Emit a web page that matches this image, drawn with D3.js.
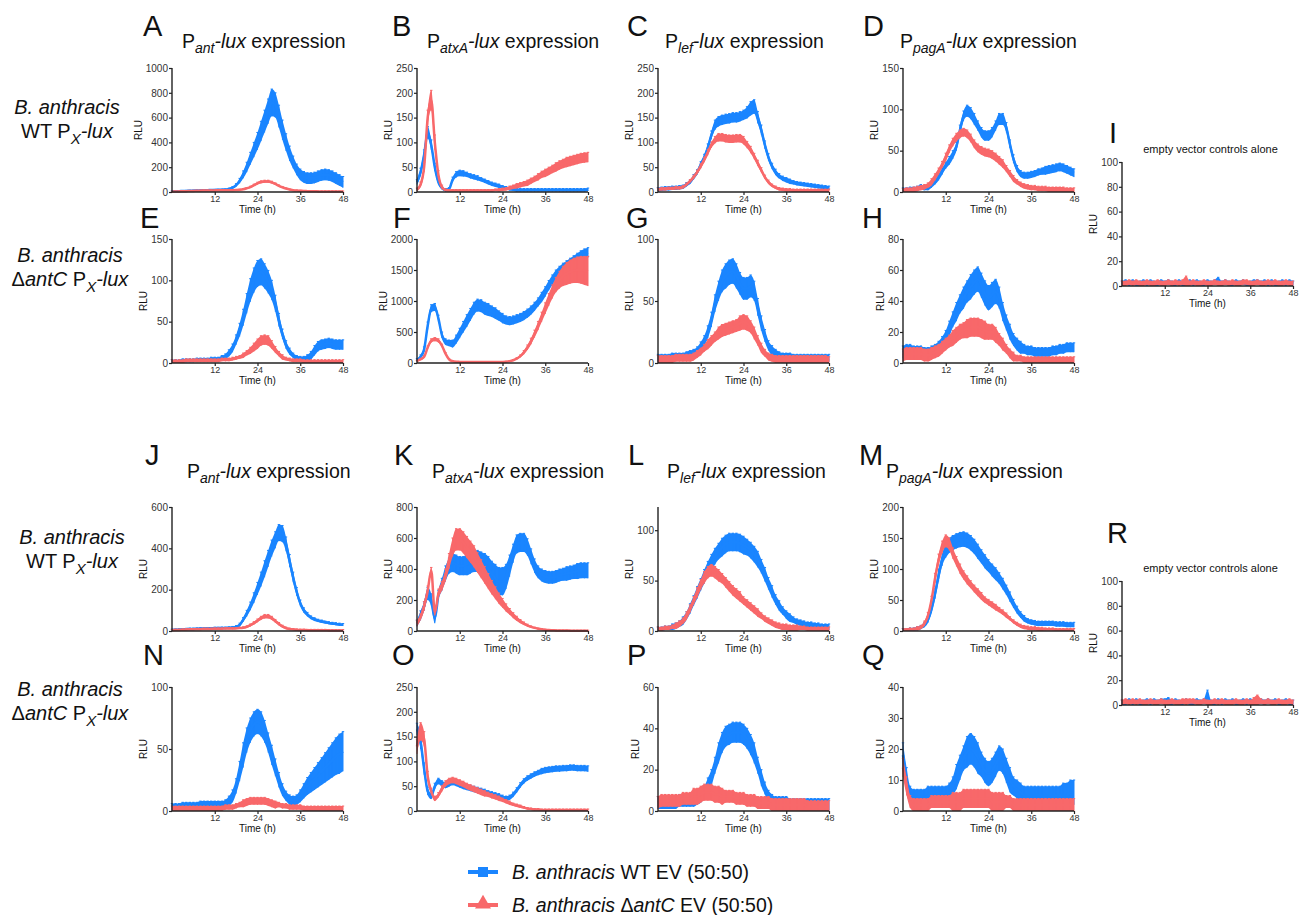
<!DOCTYPE html>
<meta charset="utf-8">
<html>
<head>
<title>lux expression panels</title>
<style>
  html, body { margin: 0; padding: 0; background: #fff; }
  text { font-family: "Liberation Sans", Arial, Helvetica, sans-serif; fill: #111; }
  .tick text { fill: #333; }
</style>
</head>
<body>
<svg xmlns="http://www.w3.org/2000/svg"></svg>
<script src="https://d3js.org/d3.v7.min.js"></script>
<script>
// hourly readings, t = 0..48 h (mean RLU, error half-width)
var hours = [0,1,2,3,4,5,6,7,8,9,10,11,12,13,14,15,16,17,18,19,20,21,22,23,24,25,26,27,28,29,30,31,32,33,34,35,36,37,38,39,40,41,42,43,44,45,46,47,48];
var xTicks = [12, 24, 36, 48];

// A  Pant-lux, WT background
var A_wt = [5,6,7,8,9,10,11,12,13,14, 15,16,17,18,19,20,25,35,55,90, 140,200,270,340,410,490,570,650,720,700, 610,500,400,310,240,180,140,120,110,110, 115,125,135,140,135,125,110,95,80];
var A_wtErr = [4,4,4,4,4,4,4,4,4,4, 4,4,4,4,4,5,6,8,12,20, 30,40,50,60,70,80,90,100,110,100, 90,80,70,60,50,45,45,45,45,45, 45,45,45,45,45,45,45,45,45];
var A_dc = [3,4,5,6,7,8,9,10,11,12, 12,13,13,14,14,15,15,15,16,18, 22,30,40,55,70,80,85,85,78,65, 50,38,28,20,15,12,10,8,7,6, 6,5,5,5,5,5,5,4,4];
var A_dcErr = [4,4,4,4,4,4,4,4,4,4, 4,4,4,4,4,4,4,4,4,4, 5,6,7,8,9,10,10,10,9,8, 7,6,5,5,4,4,4,4,4,4, 4,4,4,4,4,4,4,4,4];

// B  PatxA-lux
var B_wt = [20,40,75,120,95,50,20,8,4,6, 25,35,38,37,35,32,30,28,25,22, 19,16,14,12,10,8,6,5,4,4, 4,4,4,4,4,4,4,4,4,4, 4,4,4,4,4,4,4,4,5];
var B_wtErr = [5,8,10,12,10,8,5,3,3,3, 5,6,6,6,5,5,5,5,4,4, 4,4,4,4,3,3,3,3,3,3, 3,3,3,3,3,3,3,3,3,3, 3,3,3,3,3,3,3,3,3];
var B_dc = [5,15,50,150,185,100,35,10,4,3, 3,3,3,3,3,3,3,3,3,3, 3,3,4,4,5,6,8,10,12,14, 16,18,22,26,30,35,38,42,46,50, 54,57,60,62,64,66,68,69,70];
var B_dcErr = [3,5,10,15,20,15,8,4,2,2, 2,2,2,2,2,2,2,2,2,2, 2,2,2,3,3,3,4,4,5,5, 5,6,6,6,7,7,8,8,8,9, 9,9,10,10,10,10,10,10,10];

// C  Plef-lux
var C_wt = [5,6,7,7,8,8,9,10,15,20, 30,40,55,70,90,115,135,142,145,147, 148,150,150,152,155,160,168,172,150,125, 95,70,52,40,32,27,24,21,19,17, 16,15,14,13,12,11,10,9,8];
var C_wtErr = [4,4,4,4,4,4,4,4,4,4, 5,5,6,6,7,8,10,10,10,10, 10,10,10,10,10,12,14,14,12,10, 8,7,6,6,5,5,5,5,4,4, 4,4,4,4,4,4,4,4,4];
var C_dc = [5,6,6,7,7,8,8,10,15,22, 30,40,52,65,80,95,105,110,110,108, 107,107,108,108,104,95,85,72,58,44, 30,20,13,9,6,5,4,4,3,3, 3,3,3,3,3,3,3,3,3];
var C_dcErr = [3,3,3,3,3,3,3,3,3,3, 4,4,5,5,6,6,7,8,8,8, 8,8,8,8,8,7,7,6,6,5, 4,4,3,3,3,3,3,3,3,3, 3,3,3,3,3,3,3,3,3];

// D  PpagA-lux
var D_wt = [2,2,3,3,4,6,5,5,8,12, 18,25,32,38,45,55,75,92,98,95, 88,80,72,68,68,72,80,88,88,78, 58,40,28,22,20,20,21,22,24,25, 26,27,28,29,30,29,27,25,23];
var D_wtErr = [3,3,3,3,3,3,3,3,3,3, 4,4,4,5,5,5,6,6,7,7, 7,6,6,6,6,6,6,7,7,6, 5,5,4,4,4,4,4,4,4,4, 5,5,5,5,5,5,5,5,5];
var D_dc = [1,2,2,3,4,5,6,8,12,18, 25,33,42,52,60,66,70,72,70,65, 58,53,50,48,47,45,42,38,34,28, 22,16,12,9,7,6,5,5,4,4, 4,3,3,3,3,3,2,2,2];
var D_dcErr = [3,3,3,3,3,3,3,3,4,4, 4,4,5,5,5,5,5,5,5,5, 5,5,5,5,5,5,5,5,5,4, 4,4,3,3,3,3,3,3,3,3, 3,3,3,3,3,3,3,3,3];

// E  Pant-lux, antC background
var E_wt = [2,2,2,3,3,3,3,4,4,4, 4,5,5,5,6,8,12,18,28,40, 55,72,88,100,108,110,105,98,88,72, 52,35,22,14,9,6,5,5,6,9, 15,20,22,23,24,23,22,22,22];
var E_wtErr = [2,2,2,2,2,2,2,2,2,2, 2,2,2,2,3,3,4,5,6,8, 10,12,14,15,16,16,15,14,12,10, 8,6,5,4,3,3,3,3,4,5, 6,6,6,6,6,6,6,6,6];
var E_dc = [2,2,2,2,3,3,3,3,3,3, 3,3,3,3,4,4,4,5,6,7, 9,12,15,19,23,27,28,27,22,16, 11,7,5,4,3,3,3,2,2,2, 2,2,2,2,2,2,2,2,2];
var E_dcErr = [2,2,2,2,2,2,2,2,2,2, 2,2,2,2,2,2,2,2,2,2, 3,3,4,5,6,6,6,6,5,4, 3,3,2,2,2,2,2,2,2,2, 2,2,2,2,2,2,2,2,2];

// F  PatxA-lux
var F_wt = [50,100,220,600,880,900,720,450,340,320, 310,380,480,580,680,780,880,930,920,880, 860,830,800,760,720,690,680,690,710,730, 760,800,850,910,980,1060,1150,1250,1340,1420, 1480,1530,1570,1610,1650,1690,1730,1760,1780];
var F_wtErr = [20,30,40,60,60,60,50,50,50,50, 60,70,80,90,100,100,100,100,100,100, 100,90,90,80,80,70,70,70,70,70, 70,70,70,70,70,80,80,80,80,80, 80,80,80,80,80,80,80,80,80];
var F_dc = [30,60,100,250,360,380,360,280,150,60, 30,20,18,17,16,15,15,15,15,15, 15,15,15,16,18,22,30,45,70,110, 170,250,350,470,600,740,880,1020,1150,1260, 1340,1400,1440,1470,1490,1500,1500,1490,1480];
var F_dcErr = [10,15,20,25,30,30,30,25,20,10, 5,5,5,5,5,5,5,5,5,5, 5,5,5,5,5,6,8,10,15,20, 30,40,50,60,70,80,90,100,110,120, 140,160,180,190,200,210,220,230,240];

// G  Plef-lux
var G_wt = [4,4,4,4,5,5,5,5,6,7, 8,10,13,18,25,35,48,58,66,70, 73,74,70,64,60,60,62,58,45,32, 22,14,10,8,6,5,5,5,4,4, 4,4,4,4,4,4,4,4,4];
var G_wtErr = [3,3,3,3,3,3,3,3,3,3, 3,3,4,4,5,6,7,8,9,10, 10,10,10,9,9,9,9,8,7,6, 5,4,4,3,3,3,3,3,3,3, 3,3,3,3,3,3,3,3,3];
var G_dc = [3,3,3,3,3,4,4,4,4,4, 5,7,9,12,15,18,21,24,26,27, 28,29,30,32,33,32,29,24,18,12, 8,5,4,3,3,3,3,3,3,3, 3,3,3,3,3,3,3,3,2];
var G_dcErr = [3,3,3,3,3,3,3,3,3,3, 3,3,3,3,4,4,4,5,5,5, 5,5,5,6,6,6,5,5,4,4, 3,3,3,3,3,3,3,3,3,3, 3,3,3,3,3,3,3,3,3];

// H  PpagA-lux
var H_wt = [7,8,8,7,7,7,6,6,7,8, 10,13,17,22,28,33,38,42,46,49, 52,54,50,45,42,44,46,42,33,26, 20,15,12,10,9,8,8,7,7,7, 7,7,8,8,9,9,10,10,10];
var H_wtErr = [4,4,4,4,4,4,4,4,4,4, 4,4,4,5,5,6,6,7,7,8, 8,8,8,8,8,8,8,7,6,5, 5,4,4,4,3,3,3,3,3,3, 3,3,3,3,3,3,3,3,3];
var H_dc = [5,6,6,6,6,6,5,5,6,7, 8,10,12,14,16,18,20,21,22,23, 23,23,22,21,20,20,18,15,12,9, 6,4,3,3,2,2,2,2,2,2, 2,2,2,2,2,2,2,2,2];
var H_dcErr = [4,4,4,4,4,4,4,4,4,4, 4,4,4,4,5,5,5,5,6,6, 6,6,6,6,5,5,5,4,4,3, 3,3,2,2,2,2,2,2,2,2, 2,2,2,2,2,2,2,2,2];

// I  empty vector controls
var I_wt = [2,3,2,3,2,2,3,2,3,2, 2,3,2,3,2,2,3,2,2,3, 2,3,2,2,3,2,3,4,2,3, 2,2,3,2,3,2,2,3,3,2, 3,2,3,2,2,3,2,3,2];
var I_wtErr = [2,2,2,2,2,2,2,2,2,2, 2,2,2,2,2,2,2,2,2,2, 2,2,2,2,2,2,2,3,2,2, 2,2,2,2,2,2,2,2,2,2, 2,2,2,2,2,2,2,2,2];
var I_dc = [2,2,3,2,3,2,2,3,2,2, 3,2,2,3,2,3,2,3,4,2, 3,2,2,3,2,2,3,2,2,3, 2,3,2,2,3,3,2,2,3,2, 2,3,2,3,2,2,3,2,2];
var I_dcErr = [2,2,2,2,2,2,2,2,2,2, 2,2,2,2,2,2,2,2,4,2, 2,2,2,2,2,2,2,2,2,2, 2,2,2,2,2,2,2,2,2,2, 2,2,2,2,2,2,2,2,2];

// J  Pant-lux, 50:50 co-culture
var J_wt = [5,6,7,8,9,10,10,11,12,12, 13,13,14,14,15,15,16,17,20,30, 55,85,120,160,205,250,300,350,400,440, 475,470,420,340,260,190,135,100,80,65, 56,50,46,42,39,36,34,32,30];
var J_wtErr = [4,4,4,4,4,4,4,4,4,4, 4,4,4,4,4,4,4,5,6,8, 10,15,20,25,30,35,40,40,40,40, 40,40,35,30,25,20,15,12,10,8, 8,7,7,6,6,6,6,6,6];
var J_dc = [4,5,5,6,7,8,8,9,9,10, 10,10,11,11,11,12,12,12,13,14, 16,20,28,38,50,62,70,70,62,48, 34,22,14,10,8,6,5,5,4,4, 4,4,4,4,3,3,3,3,3];
var J_dcErr = [4,4,4,4,4,4,4,4,4,4, 4,4,4,4,4,4,4,4,4,4, 4,5,6,7,8,9,10,10,9,8, 7,6,5,4,4,4,4,4,4,4, 4,4,4,4,4,4,4,4,4];

// K  PatxA-lux
var K_wt = [50,100,160,240,200,80,230,300,370,420, 440,430,420,420,430,440,450,450,440,430, 400,370,340,320,320,350,420,500,560,570, 570,540,480,420,380,360,350,345,345,350, 360,365,370,375,380,385,390,390,390];
var K_wtErr = [20,30,30,40,40,30,30,40,50,50, 60,60,60,60,70,70,70,70,70,70, 80,80,90,90,90,80,70,60,60,60, 60,55,50,45,40,40,40,40,40,40, 40,40,45,45,45,50,50,50,50];
var K_dc = [50,90,160,260,390,120,240,290,360,450, 540,590,590,570,540,510,480,440,400,360, 320,280,245,210,180,150,125,100,80,62, 48,36,27,20,15,11,8,6,5,4, 3,3,3,2,2,2,2,2,2];
var K_dcErr = [20,20,30,30,20,20,30,30,40,50, 60,70,70,70,70,70,70,65,60,55, 50,45,40,35,30,25,20,18,15,12, 10,8,6,5,4,4,3,3,3,3, 3,3,3,3,3,3,3,3,3];

// L  Plef-lux
var L_wt = [2,2,3,3,4,5,7,10,15,22, 30,38,46,54,62,68,74,79,83,86, 88,88,88,87,85,83,80,76,71,64, 56,47,39,31,25,20,16,13,11,9, 8,7,6,6,5,5,4,4,4];
var L_wtErr = [2,2,2,2,3,3,3,4,4,5, 5,6,6,7,7,8,8,8,9,9, 9,9,9,9,9,8,8,8,8,7, 7,6,6,5,5,4,4,4,3,3, 3,3,3,3,3,3,3,3,3];
var L_dc = [2,2,3,3,4,5,7,10,15,22, 30,38,46,53,58,60,58,55,52,48, 44,40,37,34,30,27,24,21,18,15, 12,10,8,6,5,4,4,3,3,3, 3,3,2,2,2,2,2,2,2];
var L_dcErr = [2,2,2,2,2,3,3,3,4,4, 4,5,5,6,6,6,6,6,5,5, 5,5,5,5,4,4,4,4,4,3, 3,3,3,3,3,3,3,3,3,3, 2,2,2,2,2,2,2,2,2];

// M  PpagA-lux
var M_wt = [2,2,3,3,4,6,10,18,35,60, 90,115,130,138,142,145,147,148,146,142, 136,128,120,112,105,98,92,85,76,66, 55,44,34,26,20,16,14,13,12,12, 12,12,12,11,11,11,10,10,10];
var M_wtErr = [2,2,2,2,3,3,4,5,6,8, 10,10,12,12,12,12,12,12,12,12, 12,12,11,11,10,10,10,9,9,8, 8,7,6,5,5,4,4,4,4,4, 4,4,4,4,4,4,4,4,4];
var M_dc = [2,2,3,3,4,6,12,25,50,85, 115,135,145,140,125,112,100,90,82,75, 68,62,56,50,46,42,38,34,30,25, 20,15,11,8,6,5,4,4,3,3, 3,3,3,2,2,2,2,2,2];
var M_dcErr = [2,2,2,2,3,3,4,5,6,8, 9,10,10,10,9,8,8,7,7,6, 6,6,6,5,5,5,5,4,4,4, 3,3,3,3,3,3,3,3,3,3, 2,2,2,2,2,2,2,2,2];

// N  Pant-lux
var N_wt = [3,3,3,4,4,4,4,4,5,5, 5,5,5,5,5,6,8,12,20,32, 45,57,65,70,72,70,64,55,45,35, 25,17,12,9,8,9,12,16,20,23, 26,29,32,35,38,41,44,46,48];
var N_wtErr = [3,3,3,3,3,3,3,3,3,3, 3,3,3,3,3,3,4,5,6,8, 10,10,10,10,10,10,9,8,8,7, 6,5,4,4,4,4,5,6,7,8, 9,10,11,12,13,14,15,16,16];
var N_dc = [2,2,2,2,2,2,2,2,2,2, 2,2,2,2,2,3,3,3,4,5, 6,7,8,8,8,8,8,7,6,5, 5,4,4,3,3,3,3,2,2,2, 2,2,2,2,2,2,2,2,2];
var N_dcErr = [2,2,2,2,2,2,2,2,2,2, 2,2,2,2,2,2,2,2,2,2, 3,3,3,3,3,3,3,3,3,3, 2,2,2,2,2,2,2,2,2,2, 2,2,2,2,2,2,2,2,2];

// O  PatxA-lux
var O_wt = [165,140,85,40,30,50,60,55,52,55, 58,56,53,50,48,46,44,42,40,38, 36,34,32,30,27,25,27,33,42,52, 60,66,70,74,77,80,82,83,84,85, 85,86,86,87,87,86,86,86,85];
var O_wtErr = [12,15,12,8,6,6,6,6,6,6, 6,6,6,6,6,6,6,6,6,6, 5,5,5,5,5,5,5,5,5,5, 5,5,5,5,5,6,6,6,6,6, 6,6,6,6,6,6,6,6,6];
var O_dc = [130,160,145,70,40,25,32,45,55,60, 62,60,57,54,50,47,44,41,38,35, 33,30,28,25,22,19,16,13,11,9, 7,5,4,3,3,2,2,2,2,2, 2,2,2,2,2,2,2,2,2];
var O_dcErr = [15,18,15,10,6,5,5,6,6,6, 6,6,6,6,6,6,6,6,6,6, 5,5,5,5,4,4,4,3,3,3, 2,2,2,2,2,2,2,2,2,2, 2,2,2,2,2,2,2,2,2];

// P  Plef-lux
var P_wt = [4,4,4,4,4,4,5,5,5,5, 5,6,7,9,12,16,22,28,33,36, 37,38,38,38,37,35,32,28,22,16, 11,7,5,4,4,4,4,3,3,3, 3,3,3,3,3,3,3,3,3];
var P_wtErr = [3,3,3,3,3,3,3,3,3,3, 3,3,3,3,4,4,4,5,5,5, 5,5,5,5,5,5,5,5,4,4, 3,3,3,3,3,3,3,3,3,3, 3,3,3,3,3,3,3,3,3];
var P_dc = [4,5,5,5,5,5,5,6,6,6, 7,7,8,9,9,9,8,8,7,7, 7,7,6,6,6,5,5,5,4,4, 4,4,3,3,3,3,3,3,3,3, 3,3,2,2,2,2,2,2,2];
var P_dcErr = [3,3,3,3,3,3,3,3,3,3, 4,4,4,4,4,4,4,4,4,3, 3,3,3,3,3,3,3,3,3,3, 3,3,3,3,3,3,3,3,3,3, 3,3,3,3,3,3,3,3,3];

// Q  PpagA-lux
var Q_wt = [18,10,5,4,4,4,4,5,5,5, 5,5,5,6,8,11,14,17,19,20, 19,17,15,13,12,13,15,17,16,13, 10,8,7,6,5,5,5,5,5,5, 5,5,5,5,5,5,5,6,6];
var Q_wtErr = [4,4,3,3,3,3,3,3,3,3, 3,3,3,3,3,4,4,4,5,5, 5,5,4,4,4,4,4,4,4,4, 4,3,3,3,3,3,3,3,3,3, 3,3,3,3,3,4,4,4,4];
var Q_dc = [14,8,3,2,2,2,2,2,3,3, 3,3,3,3,3,3,3,4,4,4, 4,4,4,4,4,3,3,3,3,3, 3,2,2,2,2,2,2,2,2,2, 2,2,2,2,2,2,2,2,2];
var Q_dcErr = [3,3,2,2,2,2,2,2,2,2, 2,2,2,2,3,3,3,3,3,3, 3,3,3,3,3,3,3,3,3,2, 2,2,2,2,2,2,2,2,2,2, 2,2,2,2,2,2,2,2,2];

// R  empty vector controls
var R_wt = [2,2,3,2,3,2,2,3,2,3, 2,3,3,2,2,3,2,2,3,2, 2,3,2,3,5,2,2,3,2,3, 2,3,2,2,3,2,3,2,2,3, 2,3,2,3,2,2,3,2,2];
var R_wtErr = [2,2,2,2,2,2,2,2,2,2, 2,2,2,4,2,2,2,2,2,2, 2,2,2,2,7,2,2,2,2,2, 2,2,2,2,2,2,2,2,2,2, 2,2,2,2,2,2,2,2,2];
var R_dc = [2,3,2,3,2,3,2,2,3,2, 2,3,2,2,3,2,2,3,2,3, 3,2,2,3,2,2,3,2,3,2, 2,2,3,2,2,3,2,3,4,3, 2,3,2,2,3,2,2,3,2];
var R_dcErr = [2,2,2,2,2,2,2,2,2,2, 2,2,2,2,2,2,2,2,3,2, 2,2,2,2,2,2,2,2,2,2, 2,2,2,2,2,2,2,3,4,2, 2,2,2,2,2,2,2,2,2];

var promoters = ['ant', 'atxA', 'lef', 'pagA'];
var legendLabels = [
  {italic: 'B. anthracis', rest: ' WT EV (50:50)'},
  {italic: 'B. anthracis', rest: ' \u0394antC EV (50:50)'}
];
var blue = '#1a85ff', red = '#f8686a';

// layout
var W = 1304, H = 915, pw = 171, ph = 124;
var colX = [172, 417, 658, 903, 1122];
var rowTop = [68, 239, 507, 687];

var panels = [
  {id:'A', x:colX[0], y:rowTop[0], ymax:1000, step:200, wt:A_wt, we:A_wtErr, dc:A_dc, de:A_dcErr, lx:143, ly:36},
  {id:'B', x:colX[1], y:rowTop[0], ymax:250, step:50, wt:B_wt, we:B_wtErr, dc:B_dc, de:B_dcErr, lx:392, ly:36},
  {id:'C', x:colX[2], y:rowTop[0], ymax:250, step:50, wt:C_wt, we:C_wtErr, dc:C_dc, de:C_dcErr, lx:627, ly:36},
  {id:'D', x:colX[3], y:rowTop[0], ymax:150, step:50, wt:D_wt, we:D_wtErr, dc:D_dc, de:D_dcErr, lx:863, ly:36},
  {id:'E', x:colX[0], y:rowTop[1], ymax:150, step:50, wt:E_wt, we:E_wtErr, dc:E_dc, de:E_dcErr, lx:140, ly:228},
  {id:'F', x:colX[1], y:rowTop[1], ymax:2000, step:500, wt:F_wt, we:F_wtErr, dc:F_dc, de:F_dcErr, lx:393, ly:228},
  {id:'G', x:colX[2], y:rowTop[1], ymax:100, step:50, wt:G_wt, we:G_wtErr, dc:G_dc, de:G_dcErr, lx:626, ly:228},
  {id:'H', x:colX[3], y:rowTop[1], ymax:80, step:20, wt:H_wt, we:H_wtErr, dc:H_dc, de:H_dcErr, lx:862, ly:228},
  {id:'I', x:colX[4], y:162, ymax:100, step:20, wt:I_wt, we:I_wtErr, dc:I_dc, de:I_dcErr, lx:1109, ly:143, ev:true},
  {id:'J', x:colX[0], y:rowTop[2], ymax:600, step:200, wt:J_wt, we:J_wtErr, dc:J_dc, de:J_dcErr, lx:145, ly:465},
  {id:'K', x:colX[1], y:rowTop[2], ymax:800, step:200, wt:K_wt, we:K_wtErr, dc:K_dc, de:K_dcErr, lx:394, ly:465},
  {id:'L', x:colX[2], y:rowTop[2], ymax:123, step:50, wt:L_wt, we:L_wtErr, dc:L_dc, de:L_dcErr, lx:628, ly:465},
  {id:'M', x:colX[3], y:rowTop[2], ymax:200, step:50, wt:M_wt, we:M_wtErr, dc:M_dc, de:M_dcErr, lx:859, ly:465},
  {id:'N', x:colX[0], y:rowTop[3], ymax:100, step:50, wt:N_wt, we:N_wtErr, dc:N_dc, de:N_dcErr, lx:143, ly:665},
  {id:'O', x:colX[1], y:rowTop[3], ymax:250, step:50, wt:O_wt, we:O_wtErr, dc:O_dc, de:O_dcErr, lx:392, ly:665},
  {id:'P', x:colX[2], y:rowTop[3], ymax:60, step:20, wt:P_wt, we:P_wtErr, dc:P_dc, de:P_dcErr, lx:627, ly:665},
  {id:'Q', x:colX[3], y:rowTop[3], ymax:40, step:10, wt:Q_wt, we:Q_wtErr, dc:Q_dc, de:Q_dcErr, lx:862, ly:665},
  {id:'R', x:colX[4], y:581, ymax:100, step:20, wt:R_wt, we:R_wtErr, dc:R_dc, de:R_dcErr, lx:1107, ly:543, ev:true}
];

// title positions: [x, baseline, promoter]
var titles = [
  [182, 48, 0], [427, 48, 1], [665, 48, 2], [900, 48, 3],
  [187, 478, 0], [432, 478, 1], [667, 478, 2], [886, 478, 3]
];

var svg = d3.select('svg').attr('width', W).attr('height', H);

function drawPanel(p) {
  var x = d3.scaleLinear().domain([0, 48]).range([p.x, p.x + pw]);
  var y = d3.scaleLinear().domain([0, p.ymax]).range([p.y + ph, p.y]);
  var g = svg.append('g');

  var series = [
    {v: p.wt, e: p.we, c: blue},
    {v: p.dc, e: p.de, c: red}
  ];
  series.forEach(function(s) {
    var pts = hours.map(function(t, i) { return {t: t, m: s.v[i], e: s.e[i]}; });
    var area = d3.area()
      .x(function(d) { return x(d.t); })
      .y0(function(d) { return y(Math.max(0, d.m - d.e)); })
      .y1(function(d) { return y(d.m + d.e); })
      .curve(d3.curveMonotoneX);
    var line = d3.line()
      .x(function(d) { return x(d.t); })
      .y(function(d) { return y(d.m); })
      .curve(d3.curveMonotoneX);
    g.append('path').datum(pts).attr('d', area).attr('fill', s.c);
    g.selectAll(null).data(pts).enter().append('path')
      .attr('d', function(d) {
        var cx = x(d.t), y1 = y(d.m + d.e), y0 = y(Math.max(0, d.m - d.e));
        return 'M' + (cx - 1.2) + ',' + y1 + 'H' + (cx + 1.2) + 'M' + cx + ',' + y1 + 'V' + y0;
      })
      .attr('stroke', s.c).attr('stroke-width', 1).attr('fill', 'none');
    g.append('path').datum(pts).attr('d', line)
      .attr('fill', 'none').attr('stroke', s.c).attr('stroke-width', 2.5);
  });

  // axes
  var yTicks = d3.range(0, p.ymax + 0.01, p.step);
  var yAxis = svg.append('g').attr('transform', 'translate(' + p.x + ',0)')
    .call(d3.axisLeft(y).tickValues(yTicks).tickSize(3).tickPadding(1).tickFormat(d3.format('d')));
  yAxis.select('.domain').attr('d', 'M0,' + (p.y + ph) + 'V' + p.y);
  yAxis.selectAll('text').style('font-size', '10px');
  var xAxis = svg.append('g').attr('transform', 'translate(0,' + (p.y + ph) + ')')
    .call(d3.axisBottom(x).tickValues(xTicks).tickSize(3).tickPadding(1));
  xAxis.select('.domain').attr('d', 'M' + p.x + ',0H' + (p.x + pw));
  xAxis.selectAll('text').style('font-size', '9px');
  svg.selectAll('.domain').attr('stroke', '#222').attr('stroke-width', 1.4);
  svg.selectAll('.tick line').attr('stroke', '#222').attr('stroke-width', 1.2);

  var maxW = 0;
  yAxis.selectAll('text').each(function() { maxW = Math.max(maxW, this.getComputedTextLength()); });

  svg.append('text')
    .attr('transform', 'translate(' + (p.x - maxW - 8) + ',' + (p.y + ph / 2) + ') rotate(-90)')
    .attr('text-anchor', 'middle').style('font-size', '10px').text('RLU');
  svg.append('text')
    .attr('x', p.x + pw / 2).attr('y', p.y + ph + 21)
    .attr('text-anchor', 'middle').style('font-size', '10px').text('Time (h)');

  svg.append('text').attr('x', p.lx).attr('y', p.ly)
    .style('font-size', '29px').text(p.id);

  if (p.ev) {
    svg.append('text').attr('x', p.x + pw / 2 + 3).attr('y', p.y - 9)
      .attr('text-anchor', 'middle').style('font-size', '11px').text('empty vector controls alone');
  }
}

panels.forEach(drawPanel);

titles.forEach(function(t) {
  var txt = svg.append('text').attr('x', t[0]).attr('y', t[1]).style('font-size', '19.5px');
  txt.append('tspan').text('P');
  txt.append('tspan').attr('dy', 5).style('font-size', '14px').style('font-style', 'italic').text(promoters[t[2]]);
  txt.append('tspan').attr('dy', -5).style('font-style', 'italic').text('-lux');
  txt.append('tspan').text(' expression');
});

// row labels
var rowLabels = [
  {x: 67, y1: 114, y2: 138, g: 'WT '},
  {x: 70, y1: 262, y2: 286, g: '\u0394antC '},
  {x: 72, y1: 544, y2: 568, g: 'WT '},
  {x: 70, y1: 696, y2: 720, g: '\u0394antC '}
];
rowLabels.forEach(function(r) {
  svg.append('text').attr('x', r.x).attr('y', r.y1).attr('text-anchor', 'middle')
    .style('font-size', '20px').style('font-style', 'italic').text('B. anthracis');
  var t = svg.append('text').attr('x', r.x).attr('y', r.y2).attr('text-anchor', 'middle').style('font-size', '20px');
  if (r.g === 'WT ') {
    t.append('tspan').text('WT P');
  } else {
    t.append('tspan').text('\u0394');
    t.append('tspan').style('font-style', 'italic').text('antC');
    t.append('tspan').text(' P');
  }
  t.append('tspan').attr('dy', 6).style('font-size', '15px').style('font-style', 'italic').text('X');
  t.append('tspan').attr('dy', -6).style('font-style', 'italic').text('-lux');
});

// legend
var legY = [872, 905];
legendLabels.forEach(function(l, i) {
  var c = i === 0 ? blue : red;
  var g = svg.append('g');
  g.append('line').attr('x1', 468).attr('x2', 498).attr('y1', legY[i]).attr('y2', legY[i])
    .attr('stroke', c).attr('stroke-width', 4);
  if (i === 0) {
    g.append('rect').attr('x', 478).attr('y', legY[i] - 5).attr('width', 10).attr('height', 10).attr('fill', c);
  } else {
    g.append('path').attr('d', d3.symbol(d3.symbolTriangle, 110)())
      .attr('transform', 'translate(483,' + (legY[i] - 1) + ')').attr('fill', c);
  }
  var t = g.append('text').attr('x', 512).attr('y', legY[i] + 7).style('font-size', '19.5px');
  t.append('tspan').style('font-style', 'italic').text(l.italic);
  if (i === 0) {
    t.append('tspan').text(l.rest);
  } else {
    t.append('tspan').text(' \u0394');
    t.append('tspan').style('font-style', 'italic').text('antC');
    t.append('tspan').text(' EV (50:50)');
  }
});
</script>
</body>
</html>
